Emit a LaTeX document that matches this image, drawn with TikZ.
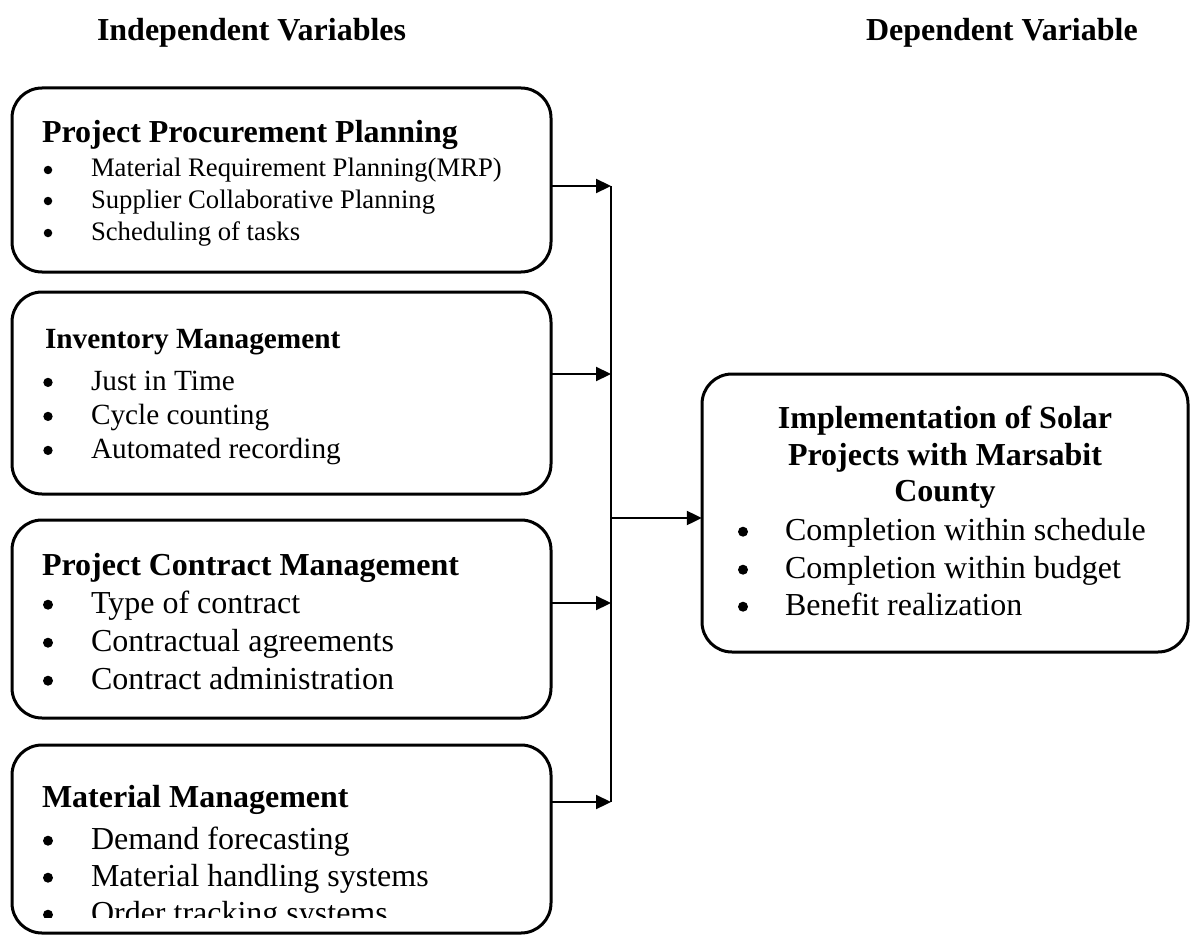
\documentclass[tikz,border=0pt]{standalone}
\usepackage{fontspec}
\setmainfont{Liberation Serif}
\usetikzlibrary{arrows.meta}
\begin{document}
\begin{tikzpicture}[x=1pt,y=-1pt,
  box/.style={draw=black,line width=3pt,rounded corners=30pt,inner sep=0pt},
  txt/.style={anchor=base west,inner sep=0pt,outer sep=0pt},
  dot/.style={circle,fill=black,inner sep=0pt,outer sep=0pt,minimum size=#1},
  arr/.style={line width=2.2pt,-{Triangle[length=15pt,width=14pt]}},
  ln/.style={line width=2pt},
  hA/.style={font=\fontsize{32}{37}\selectfont\bfseries},
  hB/.style={font=\fontsize{29.3}{34}\selectfont\bfseries},
  fA/.style={font=\fontsize{26.7}{31}\selectfont},
  fB/.style={font=\fontsize{29.3}{34}\selectfont},
  fC/.style={font=\fontsize{32}{37}\selectfont}]
\useasboundingbox (0,0) rectangle (1190,936);
% titles
\node[txt,hA] (tI) at (97,41) {Independent Variables};
\node[txt,hA] (tD) at (866,41) {Dependent Variable};
% box 1
\draw[box] (12,88) rectangle (551,272);
\node[inner sep=0pt,minimum width=539pt,minimum height=184pt] (b1) at (281.5,180) {};
\node[txt,hA] (b1h) at (42,143) {Project Procurement Planning};
\foreach \y/\t [count=\i] in {177/{Material Requirement Planning(MRP)},208/{Supplier Collaborative Planning},240/{Scheduling of tasks}}{
  \node[dot=8.5pt] (b1d\i) at (48,\y-7) {};
  \node[txt,fA] (b1t\i) at (91,\y) {\t};}
% box 2
\draw[box] (12,292) rectangle (551,494);
\node[inner sep=0pt,minimum width=539pt,minimum height=202pt] (b2) at (281.5,393) {};
\node[txt,hB] (b2h) at (45,348) {Inventory Management};
\foreach \y/\t [count=\i] in {390/{Just in Time},424/{Cycle counting},458/{Automated recording}}{
  \node[dot=9.3pt] (b2d\i) at (48,\y-7.6) {};
  \node[txt,fB] (b2t\i) at (91,\y) {\t};}
% box 3
\draw[box] (12,520) rectangle (551,718);
\node[inner sep=0pt,minimum width=539pt,minimum height=198pt] (b3) at (281.5,619) {};
\node[txt,hA] (b3h) at (42,575) {Project Contract Management};
\foreach \y/\t [count=\i] in {613/{Type of contract},651/{Contractual agreements},689/{Contract administration}}{
  \node[dot=10pt] (b3d\i) at (48,\y-8.3) {};
  \node[txt,fC] (b3t\i) at (91,\y) {\t};}
% box 4
\draw[box] (12,745) rectangle (551,933);
\node[inner sep=0pt,minimum width=539pt,minimum height=188pt] (b4) at (281.5,839) {};
\node[txt,hA] (b4h) at (42,807) {Material Management};
\begin{scope}
\clip (0,0) rectangle (1190,917);
\foreach \y/\t [count=\i] in {849/{Demand forecasting},886/{Material handling systems},923/{Order tracking systems}}{
  \node[dot=10pt] (b4d\i) at (48,\y-8.3) {};
  \node[txt,fC] (b4t\i) at (91,\y) {\t};}
\end{scope}
% dependent box
\draw[box] (702,374) rectangle (1188,652);
\node[inner sep=0pt,minimum width=486pt,minimum height=278pt] (dv) at (945,513) {};
\node[anchor=base,inner sep=0pt,hA] (dvh1) at (945,428) {Implementation of Solar};
\node[anchor=base,inner sep=0pt,hA] (dvh2) at (945,465) {Projects with Marsabit};
\node[anchor=base,inner sep=0pt,hA] (dvh3) at (945,501) {County};
\foreach \y/\t [count=\i] in {540/{Completion within schedule},578/{Completion within budget},615/{Benefit realization}}{
  \node[dot=10pt] (dvd\i) at (743,\y-8.3) {};
  \node[txt,fC] (dvt\i) at (785,\y) {\t};}
% connectors
\coordinate (j1) at (611,186);
\coordinate (j2) at (611,374);
\coordinate (j3) at (611,603);
\coordinate (j4) at (611,802);
\coordinate (jm) at (611,518);
\draw[arr] (j1 -| b1.east) -- (j1);
\draw[arr] (j2 -| b2.east) -- (j2);
\draw[arr] (j3 -| b3.east) -- (j3);
\draw[arr] (j4 -| b4.east) -- (j4);
\draw[ln] (j1) -- (j4);
\draw[arr] (jm) -- (jm -| dv.west);
\end{tikzpicture}
\end{document}
